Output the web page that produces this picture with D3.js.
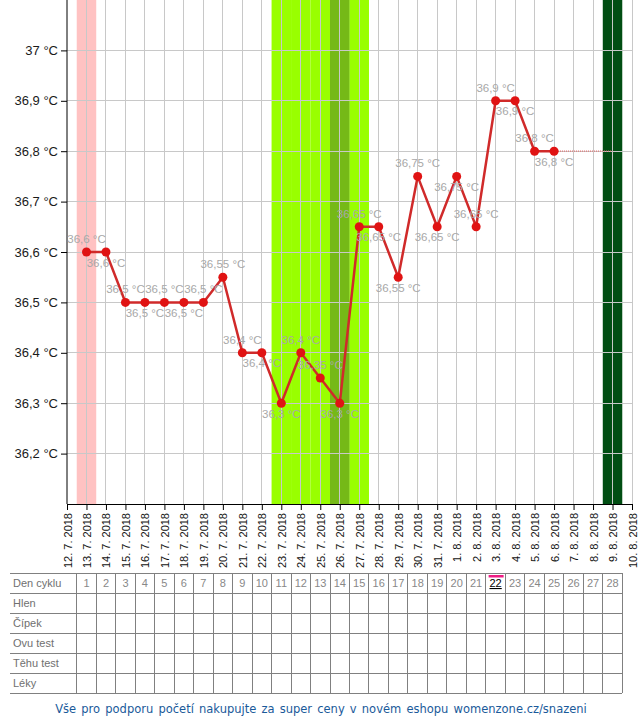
<!DOCTYPE html>
<html><head><meta charset="utf-8">
<script src="https://cdn.jsdelivr.net/npm/d3@7"></script>
<style>
html,body{margin:0;padding:0;background:#fff;}
svg{display:block;}
</style></head>
<body>
<svg id="chart" width="640" height="720"></svg>
<script>
// ---- data ----
const dates = ["2018-07-13","2018-07-14","2018-07-15","2018-07-16","2018-07-17","2018-07-18","2018-07-19","2018-07-20","2018-07-21","2018-07-22","2018-07-23","2018-07-24","2018-07-25","2018-07-26","2018-07-27","2018-07-28","2018-07-29","2018-07-30","2018-07-31","2018-08-01","2018-08-02","2018-08-03","2018-08-04","2018-08-05","2018-08-06"];
const temps = [36.6,36.6,36.5,36.5,36.5,36.5,36.5,36.55,36.4,36.4,36.3,36.4,36.35,36.3,36.65,36.65,36.55,36.75,36.65,36.75,36.65,36.9,36.9,36.8,36.8];
const labelPos = ["a","b","a","b","a","b","a","a","a","b","b","a","a","b","a","b","b","a","b","b","a","a","b","a","b"];
const xDomain = ["2018-07-12","2018-08-10"];
const yDomain = [36.1, 37.1];
const yTicks = [36.2,36.3,36.4,36.5,36.6,36.7,36.8,36.9,37.0];
const projectionEnd = "2018-08-09";
const menstruationDays = ["2018-07-13"];
const fertileDays = ["2018-07-23","2018-07-24","2018-07-25","2018-07-26","2018-07-27"];
const ovulationDays = ["2018-07-26"];
const nextPeriodDays = ["2018-08-09"];
const cycleDays = d3.range(1, 29);
const todayCycleDay = 22;
const rowLabels = ["Den cyklu","Hlen","Čípek","Ovu test","Těhu test","Léky"];
const footerText = "Vše pro podporu početí nakupujte za super ceny v novém eshopu womenzone.cz/snazeni";

// ---- setup ----
const parse = d3.utcParse("%Y-%m-%d");
const svg = d3.select("#chart");
const pLeft = 67, pRight = 632, pTop = 0, pBottom = 504;
const x = d3.scaleUtc().domain(xDomain.map(parse)).range([pLeft, pRight]);
const y = d3.scaleLinear().domain(yDomain).range([pBottom, pTop]);
const day = x(parse("2018-07-13")) - x(parse("2018-07-12"));
const fmtNum = v => d3.format("~g")(+v.toFixed(2)).replace(".", ",");

// bands
function band(list, color){
  svg.append("g").selectAll("rect").data(list).join("rect")
    .attr("x", d => x(parse(d)) - day/2).attr("width", day)
    .attr("y", pTop).attr("height", pBottom - pTop)
    .attr("fill", color);
}
band(menstruationDays, "#ffc2c2");
band(fertileDays, "#99ff00");
band(ovulationDays, "#75b917");
band(nextPeriodDays, "#014e13");

// grid
const allDays = d3.utcDay.range(parse(xDomain[0]), d3.utcDay.offset(parse(xDomain[1]), 1));
svg.append("g").selectAll("line").data(allDays.slice(1)).join("line")
  .attr("x1", d => x(d)).attr("x2", d => x(d))
  .attr("y1", pTop).attr("y2", pBottom)
  .attr("stroke", "#c8c8c8").attr("stroke-width", 1).attr("shape-rendering","crispEdges");
svg.append("g").selectAll("line").data(yTicks).join("line")
  .attr("x1", pLeft).attr("x2", pRight)
  .attr("y1", d => y(d)).attr("y2", d => y(d))
  .attr("stroke", "#c8c8c8").attr("stroke-width", 1).attr("shape-rendering","crispEdges");

// axes
const yAxis = d3.axisLeft(y).tickValues(yTicks).tickSize(6).tickPadding(3)
  .tickFormat(d => fmtNum(d) + " °C");
const gy = svg.append("g").attr("transform", `translate(${pLeft},0)`).call(yAxis);
gy.select(".domain").attr("stroke", "#000").attr("d", `M0,${pTop}V${pBottom}`);
gy.selectAll(".tick line").attr("stroke", "#000");
gy.selectAll("text").attr("font-family", "Liberation Sans, Arial, sans-serif")
  .attr("font-size", 13).attr("fill", "#1a1a1a");

const xAxis = d3.axisBottom(x).tickValues(allDays).tickSize(6).tickSizeOuter(0)
  .tickFormat(d3.utcFormat("%-d. %-m. %Y"));
const gx = svg.append("g").attr("transform", `translate(0,${pBottom})`).call(xAxis);
gx.select(".domain").attr("stroke", "#000");
gx.selectAll(".tick line").attr("stroke", "#000");
gx.selectAll("text")
  .attr("font-family", "Liberation Sans, Arial, sans-serif").attr("font-size", 11).attr("fill", "#111")
  .attr("text-anchor", "end").attr("dy", null).attr("y", 0).attr("x", 0)
  .attr("transform", "translate(4,9) rotate(-90)");

// projection line
svg.append("line")
  .attr("x1", x(parse(dates[dates.length-1]))).attr("x2", x(parse(projectionEnd)))
  .attr("y1", y(temps[temps.length-1])).attr("y2", y(temps[temps.length-1]))
  .attr("stroke", "#e07070").attr("stroke-width", 1.2).attr("stroke-dasharray", "1,1");

// line
const pts = dates.map((d, i) => ({date: parse(d), t: temps[i], pos: labelPos[i]}));
svg.append("path").datum(pts)
  .attr("d", d3.line().x(d => x(d.date)).y(d => y(d.t)))
  .attr("fill", "none").attr("stroke", "#d02a2a").attr("stroke-width", 2.5);

// labels
svg.append("g").selectAll("text").data(pts).join("text")
  .attr("x", d => x(d.date)).attr("y", d => y(d.t) + (d.pos === "a" ? -9 : 14.5))
  .attr("text-anchor", "middle")
  .attr("font-family", "Liberation Sans, Arial, sans-serif").attr("font-size", 11.5)
  .attr("fill", "#a8a8a8")
  .text(d => fmtNum(d.t) + " °C");

// points
svg.append("g").selectAll("circle").data(pts).join("circle")
  .attr("cx", d => x(d.date)).attr("cy", d => y(d.t)).attr("r", 4.5)
  .attr("fill", "#e01313");

// ---- table ----
const tTop = 573, rowH = 20, tLeft = 10;
const colX = k => x(d3.utcDay.offset(parse(xDomain[0]), k));
const tRight = colX(28) + day/2;
const tbl = svg.append("g").attr("font-family", "Liberation Sans, Arial, sans-serif").attr("font-size", 11);
tbl.selectAll("line.h").data(d3.range(rowLabels.length + 1)).join("line")
  .attr("x1", tLeft).attr("x2", tRight)
  .attr("y1", i => tTop + i*rowH).attr("y2", i => tTop + i*rowH)
  .attr("stroke", "#808080").attr("shape-rendering","crispEdges");
tbl.selectAll("line.v").data(d3.range(1, 29)).join("line")
  .attr("x1", k => colX(k) - day/2).attr("x2", k => colX(k) - day/2)
  .attr("y1", tTop).attr("y2", tTop + rowLabels.length*rowH)
  .attr("stroke", "#808080").attr("shape-rendering","crispEdges");
tbl.append("line").attr("x1", tRight).attr("x2", tRight)
  .attr("y1", tTop).attr("y2", tTop + rowLabels.length*rowH)
  .attr("stroke", "#808080").attr("shape-rendering","crispEdges");
tbl.selectAll("text.row").data(rowLabels).join("text")
  .attr("x", tLeft + 3).attr("y", (d, i) => tTop + i*rowH + 14)
  .attr("fill", "#707070").text(d => d);
tbl.selectAll("text.num").data(cycleDays).join("text")
  .attr("x", k => colX(k)).attr("y", tTop + 14).attr("text-anchor", "middle")
  .attr("fill", k => k === todayCycleDay ? "#000" : "#888")
  .attr("text-decoration", k => k === todayCycleDay ? "underline" : null)
  .text(k => k);
tbl.append("rect")
  .attr("x", colX(todayCycleDay) - 7).attr("width", 15)
  .attr("y", tTop + 2).attr("height", 2.5).attr("fill", "#ee1c84");

// footer
svg.append("text").attr("x", 321).attr("y", 713).attr("text-anchor", "middle")
  .attr("font-family", "DejaVu Sans, Verdana, sans-serif").attr("font-size", 11.5)
  .attr("word-spacing", 1.5)
  .attr("fill", "#1a5a9a").text(footerText);
</script>
</body></html>
